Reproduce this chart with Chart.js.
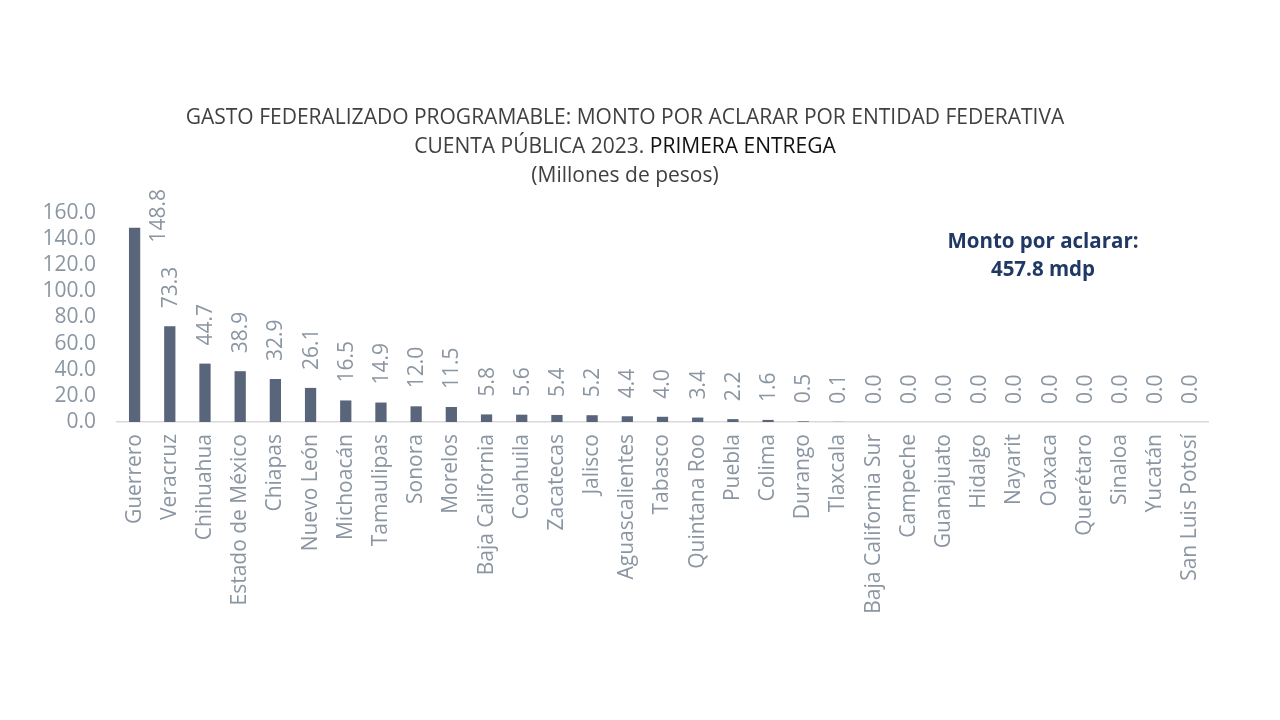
<!DOCTYPE html>
<html>
<head>
<meta charset="utf-8">
<script src="https://cdn.jsdelivr.net/npm/chart.js@4"></script>
<style>
  html, body { margin: 0; padding: 0; background: #fff; }
  #wrap { position: relative; width: 1280px; height: 720px; }
  #chartDiv { position: absolute; left: 0; top: 0; }
  .title { position: absolute; left: 0; width: 1250px; text-align: center; font-family: "Open Sans", sans-serif; font-size: 21px; line-height: 28px; color: #404040; white-space: nowrap; }
  .dark { color: #111; }
  #note { position: absolute; left: 913px; top: 226px; width: 260px; text-align: center; font-family: "Open Sans", sans-serif; font-weight: bold; font-size: 20.5px; line-height: 28px; color: #1f3864; }
</style>
</head>
<body>
<div id="wrap">
  <canvas id="chartDiv" width="1280" height="720"></canvas>
  <div class="title" style="top:102px">GASTO FEDERALIZADO PROGRAMABLE: MONTO POR ACLARAR POR ENTIDAD FEDERATIVA</div>
  <div class="title" style="top:131px">CUENTA PÚBLICA 2023. <span class="dark">PRIMERA ENTREGA</span></div>
  <div class="title" style="top:160px">(Millones de pesos)</div>
  <div id="note">Monto por aclarar:<br>457.8 mdp</div>
</div>
<script>
const estados = [
  "Guerrero", "Veracruz", "Chihuahua", "Estado de México", "Chiapas",
  "Nuevo León", "Michoacán", "Tamaulipas", "Sonora", "Morelos",
  "Baja California", "Coahuila", "Zacatecas", "Jalisco", "Aguascalientes",
  "Tabasco", "Quintana Roo", "Puebla", "Colima", "Durango", "Tlaxcala",
  "Baja California Sur", "Campeche", "Guanajuato", "Hidalgo", "Nayarit",
  "Oaxaca", "Querétaro", "Sinaloa", "Yucatán", "San Luis Potosí"
];
const montoPorAclarar = [
  148.8, 73.3, 44.7, 38.9, 32.9, 26.1, 16.5, 14.9, 12.0, 11.5,
  5.8, 5.6, 5.4, 5.2, 4.4, 4.0, 3.4, 2.2, 1.6, 0.5, 0.1,
  0.0, 0.0, 0.0, 0.0, 0.0, 0.0, 0.0, 0.0, 0.0, 0.0
];

const greyText = "#8b96a2";
const fontFam = "'Open Sans', sans-serif";

// rotated value labels above each bar
const valueLabels = {
  id: "valueLabels",
  afterDatasetsDraw(chart) {
    const { ctx, chartArea } = chart;
    const meta = chart.getDatasetMeta(0);
    ctx.save();
    ctx.font = "21px " + fontFam;
    ctx.fillStyle = greyText;
    ctx.textBaseline = "middle";
    ctx.textAlign = "left";
    meta.data.forEach((bar, i) => {
      const txt = montoPorAclarar[i].toFixed(1);
      const w = ctx.measureText(txt).width;
      let x = bar.x + 1;
      let yBottom = bar.y - 18;
      if (yBottom - w < chartArea.top - 22) {
        x = bar.x + 24;
        yBottom = bar.y + 15;
      }
      ctx.save();
      ctx.translate(x, yBottom);
      ctx.rotate(-Math.PI / 2);
      ctx.fillText(txt, 0, 0);
      ctx.restore();
    });
    ctx.restore();
  }
};

const ctx = document.getElementById("chartDiv");
const chart = new Chart(ctx, {
  type: "bar",
  data: {
    labels: estados,
    datasets: [
      {
        label: "Monto por aclarar",
        data: montoPorAclarar,
        backgroundColor: "#59657a",
        borderWidth: 0,
        barPercentage: 0.32,
        categoryPercentage: 1,
      },
    ],
  },
  options: {
    responsive: false,
    animation: false,
    layout: { padding: { top: 213, right: 72, left: 0, bottom: 0 } },
    plugins: {
      legend: { display: false },
      tooltip: { enabled: false },
    },
    scales: {
      x: {
        grid: { display: false, drawTicks: false },
        border: { display: true, color: "#d9d9d9", width: 1.5 },
        ticks: {
          color: greyText,
          font: { family: fontFam, size: 21 },
          maxRotation: 90,
          minRotation: 90,
          padding: 12,
          autoSkip: false,
        },
        afterFit: (scale) => { scale.height = 720 - 422; },
      },
      y: {
        min: 0,
        max: 160,
        grid: { display: false, drawTicks: false },
        border: { display: false },
        ticks: {
          stepSize: 20,
          autoSkip: false,
          color: greyText,
          font: { family: fontFam, size: 21 },
          padding: 21,
          callback: (v) => Number(v).toFixed(1),
        },
        afterFit: (scale) => { scale.width = 117; },
      },
    },
  },
  plugins: [valueLabels],
});
</script>
</body>
</html>
